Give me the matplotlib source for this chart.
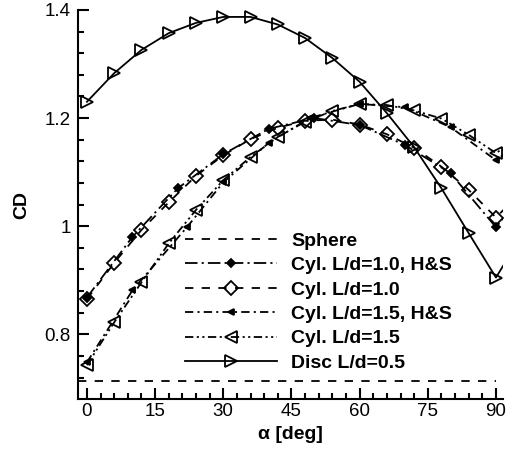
import numpy as np
import matplotlib.pyplot as plt

fontsize = 13

plt.rc('font', family=['Liberation Sans', 'DejaVu Sans'], size=fontsize)
plt.rc('axes', linewidth=1.5)
plt.rc('lines', scale_dashes=False)

# Sphere reference value
sphere_alpha = [-2, 90]
sphere_cd = [0.713, 0.713]

# present computations, every 6 deg
alpha_6 = [0, 6, 12, 18, 24, 30, 36, 42, 48, 54, 60, 66, 72, 78, 84, 90]
cyl10_cd = [0.865, 0.932, 0.993, 1.044, 1.093, 1.131, 1.161, 1.182,
            1.195, 1.197, 1.188, 1.170, 1.145, 1.110, 1.067, 1.016]
cyl15_cd = [0.743, 0.822, 0.896, 0.968, 1.030, 1.085, 1.128, 1.165,
            1.193, 1.213, 1.226, 1.224, 1.214, 1.199, 1.169, 1.135]
disc_cd = [1.230, 1.283, 1.326, 1.357, 1.376, 1.387, 1.387, 1.373,
           1.348, 1.311, 1.267, 1.209, 1.146, 1.070, 0.987, 0.905]

# H&S data
hs10_alpha = [0, 10, 20, 30, 40, 50, 60, 70, 80, 90]
hs10_cd = [0.868, 0.980, 1.070, 1.133, 1.180, 1.200, 1.187, 1.150, 1.098, 0.998]
hs15_alpha = [0, 10, 22, 30, 40, 49, 60, 70, 80, 90]
hs15_cd = [0.748, 0.881, 0.998, 1.081, 1.154, 1.200, 1.226, 1.220, 1.183, 1.122]


def mirrored(alpha, cd):
    # curves are symmetric about 90 deg, continue the line past the last point
    a = list(alpha) + [180 - alpha[-2]]
    c = list(cd) + [cd[-2]]
    return a, c


fig = plt.figure(figsize=(5.12, 4.5), dpi=100)
ax = fig.add_axes([0.152, 0.113, 0.830, 0.865])

ax.plot(sphere_alpha, sphere_cd, color='black', lw=1.3, dashes=(6, 6),
        label='Sphere')

series = [
    (hs10_alpha, hs10_cd, 'Cyl. L/d=1.0, H&S', (9, 3, 1.5, 3), 'D', 4.5, 'black'),
    (alpha_6, cyl10_cd, 'Cyl. L/d=1.0', (6, 6), 'D', 7.5, 'none'),
    (hs15_alpha, hs15_cd, 'Cyl. L/d=1.5, H&S', (6, 3, 1.5, 3), '<', 5, 'black'),
    (alpha_6, cyl15_cd, 'Cyl. L/d=1.5', (6, 2.5, 1.5, 2.5, 1.5, 2.5), '<', 9, 'none'),
    (alpha_6, disc_cd, 'Disc L/d=0.5', None, '>', 9, 'none'),
]

for alpha, cd, label, dashes, marker, ms, mfc in series:
    a, c = mirrored(alpha, cd)
    line, = ax.plot(a, c, color='black', lw=1.3, marker=marker, ms=ms,
                    mfc=mfc, mec='black', mew=1.3,
                    markevery=list(range(len(alpha))), label=label)
    if dashes is not None:
        line.set_dashes(dashes)

ax.set_xlim(-2, 91.5)
ax.set_ylim(0.68, 1.4)
ax.set_xticks(np.arange(0, 91, 15))
ax.set_xticks(np.arange(0, 91, 3), minor=True)
ax.set_yticks([0.8, 1.0, 1.2, 1.4])
ax.set_yticklabels(['0.8', '1', '1.2', '1.4'])
ax.set_yticks(np.arange(0.72, 1.401, 0.04), minor=True)

ax.spines['top'].set_visible(False)
ax.spines['right'].set_visible(False)
ax.tick_params(which='both', direction='in', width=1.5)
ax.tick_params(which='major', length=8, labelsize=13.5)
ax.tick_params(which='minor', length=4)
ax.tick_params(axis='y', pad=5)
ax.tick_params(axis='x', pad=3)

ax.set_xlabel('α [deg]', fontsize=14, fontweight='bold', labelpad=4)
ax.set_ylabel('CD', fontsize=14, fontweight='bold', labelpad=10)

ax.legend(loc='upper left', bbox_to_anchor=(0.235, 0.449), frameon=False,
          prop={'weight': 'bold', 'size': 14}, handlelength=4.7,
          handletextpad=0.75, labelspacing=0.35, borderaxespad=0)

fig.savefig('out.png', dpi=100)
